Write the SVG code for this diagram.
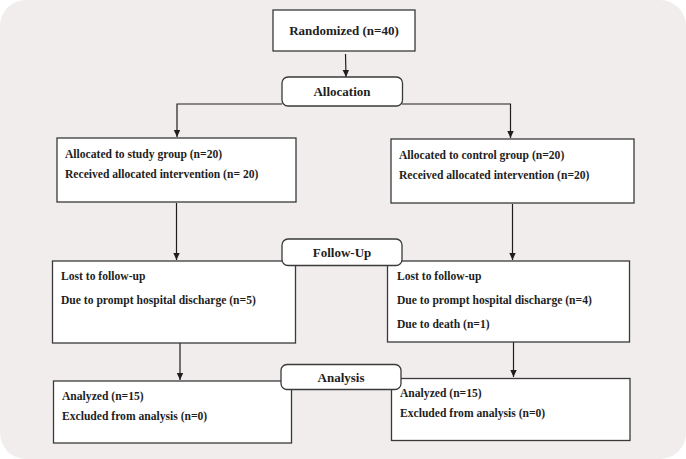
<svg xmlns="http://www.w3.org/2000/svg" width="686" height="459" viewBox="0 0 686 459">
<defs>
<style>
.bg{fill:#f1eded}
.box{fill:#ffffff;stroke:#3a3a3a;stroke-width:1.3}
.lbl{fill:#1e1e1e;font-family:"Liberation Serif","Times New Roman",serif;font-weight:bold;font-size:11.6px}
.big{font-size:13px}
.ctr{text-anchor:middle}
.ln{fill:none;stroke:#1e1e1e;stroke-width:1.2}
</style>
<marker id="ah" markerWidth="8" markerHeight="8" refX="7" refY="4" orient="auto" markerUnits="userSpaceOnUse">
<path d="M0,0.8 L7,4 L0,7.2 Z" fill="#1e1e1e"/>
</marker>
</defs>
<rect class="bg" x="0" y="0" width="686" height="459" rx="26" ry="26"/>
<g id="connectors">
<line class="ln" x1="345.5" y1="54" x2="346" y2="77" marker-end="url(#ah)"/>
<polyline class="ln" points="282,104 177,104 177,137" marker-end="url(#ah)"/>
<polyline class="ln" points="402,104 510.5,104 510.5,138" stroke-width="1.6" marker-end="url(#ah)"/>
<line class="ln" x1="176.5" y1="203" x2="176.5" y2="260" marker-end="url(#ah)"/>
<line class="ln" x1="512.5" y1="204" x2="512.5" y2="260" marker-end="url(#ah)"/>
<line class="ln" x1="180" y1="343" x2="180" y2="380" marker-end="url(#ah)"/>
<line class="ln" x1="513.5" y1="342" x2="513.5" y2="377" marker-end="url(#ah)"/>
</g>
<g id="randomized">
<rect class="box" x="273" y="10" width="142" height="41"/>
<text class="lbl big ctr" x="344" y="35">Randomized (n=40)</text>
</g>
<g id="study">
<rect class="box" x="57" y="138" width="239" height="64"/>
<text class="lbl" x="65" y="157.5">Allocated to study group (n=20)</text>
<text class="lbl" x="65" y="177.5">Received allocated intervention (n= 20)</text>
</g>
<g id="control">
<rect class="box" x="391" y="139" width="243" height="64"/>
<text class="lbl" x="399" y="158.5">Allocated to control group (n=20)</text>
<text class="lbl" x="399" y="179">Received allocated intervention (n=20)</text>
</g>
<g id="lost-study">
<rect class="box" x="52.5" y="261" width="243" height="82"/>
<text class="lbl" x="61" y="279.5">Lost to follow-up</text>
<text class="lbl" x="61" y="304">Due to prompt hospital discharge (n=5)</text>
</g>
<g id="lost-control">
<rect class="box" x="387.5" y="261" width="242" height="81"/>
<text class="lbl" x="397" y="279.5">Lost to follow-up</text>
<text class="lbl" x="397" y="303.5">Due to prompt hospital discharge (n=4)</text>
<text class="lbl" x="397" y="327.5">Due to death (n=1)</text>
</g>
<g id="analyzed-study">
<rect class="box" x="53.5" y="381" width="238" height="62"/>
<text class="lbl" x="62" y="400">Analyzed (n=15)</text>
<text class="lbl" x="62" y="420">Excluded from analysis (n=0)</text>
</g>
<g id="analyzed-control">
<rect class="box" x="391.5" y="378.5" width="238.5" height="62"/>
<text class="lbl" x="400" y="397">Analyzed (n=15)</text>
<text class="lbl" x="400" y="417">Excluded from analysis (n=0)</text>
</g>
<g id="allocation">
<rect class="box" x="282" y="77" width="120.5" height="29" rx="6"/>
<text class="lbl big ctr" x="342" y="96">Allocation</text>
</g>
<g id="follow-up">
<rect class="box" x="282" y="239" width="120" height="26.5" rx="6"/>
<text class="lbl big ctr" x="342" y="257">Follow-Up</text>
</g>
<g id="analysis">
<rect class="box" x="281" y="364.5" width="120" height="25" rx="6"/>
<text class="lbl big ctr" x="341" y="382">Analysis</text>
</g>
</svg>
